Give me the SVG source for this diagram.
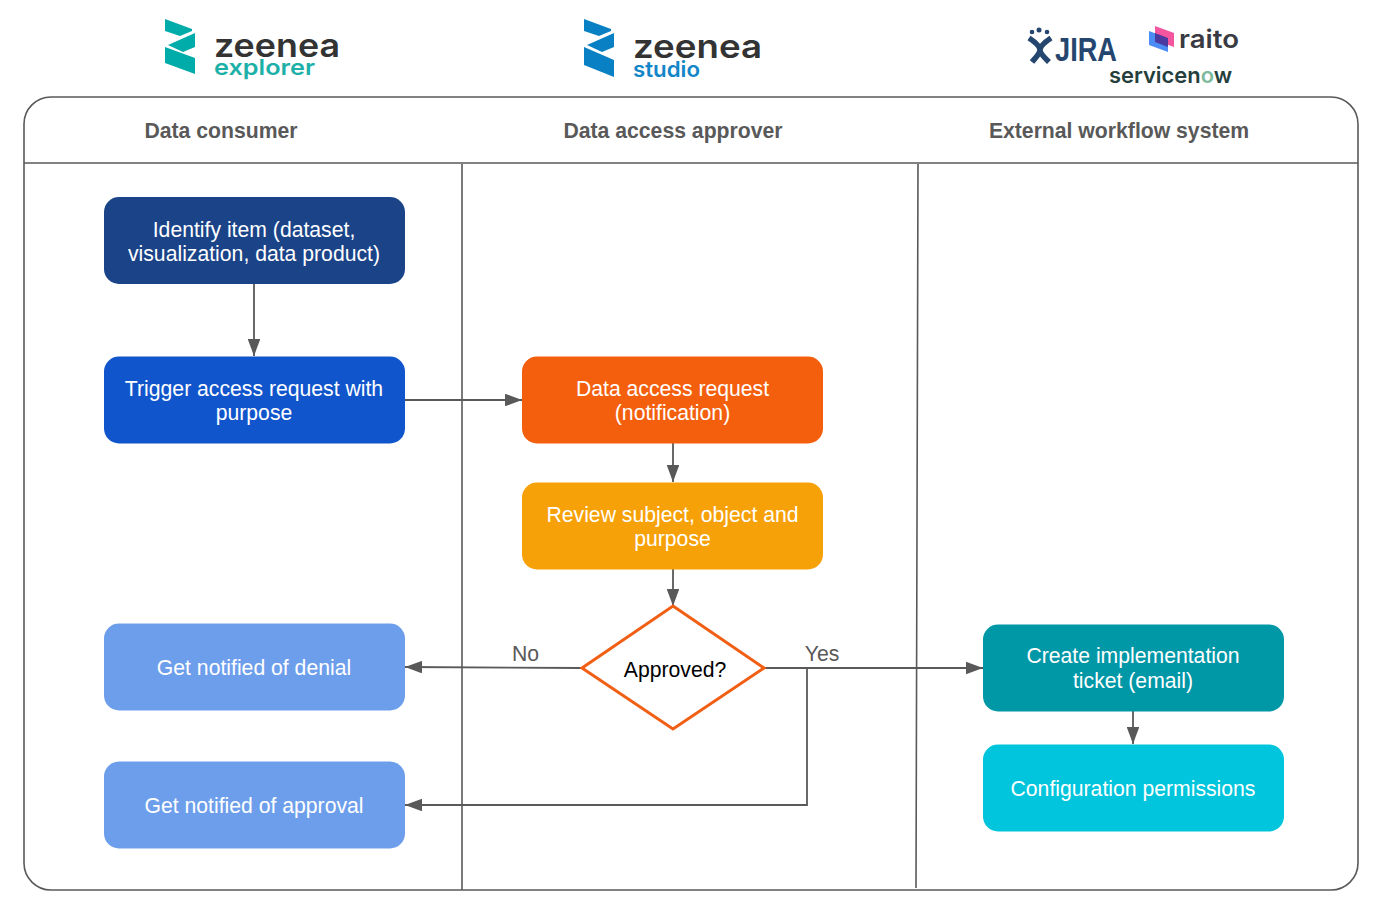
<svg xmlns="http://www.w3.org/2000/svg" width="1374" height="902" viewBox="0 0 1374 902">
<style>
text{font-family:"Liberation Sans",Arial,sans-serif}
.n{font-size:21.200px;fill:#fff;text-anchor:middle}
.h{font-size:21.200px;font-weight:bold;fill:#595959;text-anchor:middle}
.l{font-size:21.200px;fill:#595959;text-anchor:middle}
.c{fill:none;stroke:#595959;stroke-width:1.8}
.s{fill:none;stroke:#595959;stroke-width:1.6}
.lg{font-family:"Inter","Noto Sans",sans-serif;font-weight:600}
</style>
<defs><marker id="a" viewBox="0 0 17 12.500" refX="17" refY="6.250" markerWidth="17" markerHeight="12.500" markerUnits="userSpaceOnUse" orient="auto"><path d="M0 0L17 6.250L0 12.500Z" fill="#595959"/></marker></defs>
<rect width="1374" height="902" fill="#fff"/>
<g id="lanes">
<rect class="s" x="24" y="97" width="1334" height="793" rx="27"/>
<path class="s" d="M24 163H1358M462 164V890M918 164L916 888"/>
<text class="h" x="221" y="138">Data consumer</text>
<text class="h" x="673" y="138">Data access approver</text>
<text class="h" x="1119" y="138">External workflow system</text>
</g>
<g id="logo-explorer">
<path fill="#00aca9" d="M165 19L192 29L192 31L180 36L165 31ZM195 33L195 47L183 52L168 45ZM165 47L195 58L195 74L165 63Z"/>
<text class="lg" x="214" y="57" font-size="33" fill="#333" textLength="126" lengthAdjust="spacingAndGlyphs">zeenea</text>
<text class="lg" x="214" y="75" font-size="22" fill="#1db0a8" textLength="101" lengthAdjust="spacingAndGlyphs" font-weight="500">explorer</text>
</g>
<g id="logo-studio">
<path fill="#0a80c4" d="M584 19L611 29L611 31L599 36L584 31ZM614 33L614 47L602 52L587 45ZM584 47L614 60L614 77L584 65Z"/>
<text class="lg" x="633" y="58" font-size="33" fill="#333" textLength="129" lengthAdjust="spacingAndGlyphs">zeenea</text>
<text class="lg" x="633" y="77" font-size="22" fill="#1286c8" textLength="67" lengthAdjust="spacingAndGlyphs" font-weight="500">studio</text>
</g>
<g id="logo-jira">
<circle cx="1039" cy="30" r="2.500" fill="#24466f"/><circle cx="1032" cy="32" r="2.300" fill="#24466f"/><circle cx="1047" cy="32" r="2.300" fill="#24466f"/>
<path fill="none" stroke="#24466f" stroke-width="5.500" d="M1029 38C1035 42 1040 46 1040 50C1040 54 1045 58 1049 62M1051 38C1045 42 1040 46 1040 50C1040 54 1035 58 1032 62"/>
<text x="1055" y="61" font-size="32.500" font-weight="bold" fill="#24466f" textLength="62" lengthAdjust="spacingAndGlyphs">JIRA</text>
</g>
<g id="logo-raito">
<path fill="#4c8df5" d="M1149 31L1168 38V52L1149 45Z"/>
<path fill="#f4559f" d="M1155 26L1174 33V47L1155 40Z"/>
<path fill="#4a3aa0" d="M1155 33L1168 38V47L1155 42Z"/>
<text class="lg" x="1179" y="48" font-size="25" font-weight="700" fill="#3a3a42" textLength="60" lengthAdjust="spacingAndGlyphs">raito</text>
</g>
<g id="logo-servicenow">
<text class="lg" x="1109" y="83" font-size="22" fill="#25403c" textLength="123" lengthAdjust="spacingAndGlyphs">servicen<tspan fill="#7dbb9f">o</tspan>w</text>
</g>
<g id="connectors">
<path class="c" marker-end="url(#a)" d="M254 284V356"/>
<path class="c" marker-end="url(#a)" d="M405 400H522"/>
<path class="c" marker-end="url(#a)" d="M673 443V482"/>
<path class="c" marker-end="url(#a)" d="M673 569V606"/>
<path class="c" marker-end="url(#a)" d="M581 668L405 667"/>
<path class="c" marker-end="url(#a)" d="M764 668H983"/>
<path class="c" marker-end="url(#a)" d="M807 668V805H405"/>
<path class="c" marker-end="url(#a)" d="M1133 711V744"/>
<text class="l" x="525.500" y="661">No</text>
<text class="l" x="822" y="661">Yes</text>
</g>
<g id="n1"><rect x="104" y="197" width="301" height="87" rx="15" fill="#1a4388"/><text class="n" x="254" y="237">Identify item (dataset,</text><text class="n" x="254" y="261">visualization, data product)</text></g>
<g id="n2"><rect x="104" y="356.500" width="301" height="87" rx="15" fill="#1155cc"/><text class="n" x="254" y="396">Trigger access request with</text><text class="n" x="254" y="420">purpose</text></g>
<g id="n3"><rect x="522" y="356.500" width="301" height="87" rx="15" fill="#f45f0e"/><text class="n" x="672.500" y="396">Data access request</text><text class="n" x="672.500" y="420">(notification)</text></g>
<g id="n4"><rect x="522" y="482.500" width="301" height="87" rx="15" fill="#f7a108"/><text class="n" x="672.500" y="522">Review subject, object and</text><text class="n" x="672.500" y="546">purpose</text></g>
<g id="n5"><path d="M673 606L764 668L673 729L582 668Z" fill="#fff" stroke="#f05f14" stroke-width="3"/><text x="675" y="677" font-size="21.200" fill="#000" text-anchor="middle">Approved?</text></g>
<g id="n6"><rect x="104" y="623.500" width="301" height="87" rx="15" fill="#6d9eeb"/><text class="n" x="254" y="675">Get notified of denial</text></g>
<g id="n7"><rect x="104" y="761.500" width="301" height="87" rx="15" fill="#6d9eeb"/><text class="n" x="254" y="813">Get notified of approval</text></g>
<g id="n8"><rect x="983" y="624.500" width="301" height="87" rx="15" fill="#0097a7"/><text class="n" x="1133" y="663">Create implementation</text><text class="n" x="1133" y="688">ticket (email)</text></g>
<g id="n9"><rect x="983" y="744.500" width="301" height="87" rx="15" fill="#00c5dc"/><text class="n" x="1133" y="796">Configuration permissions</text></g>
</svg>
